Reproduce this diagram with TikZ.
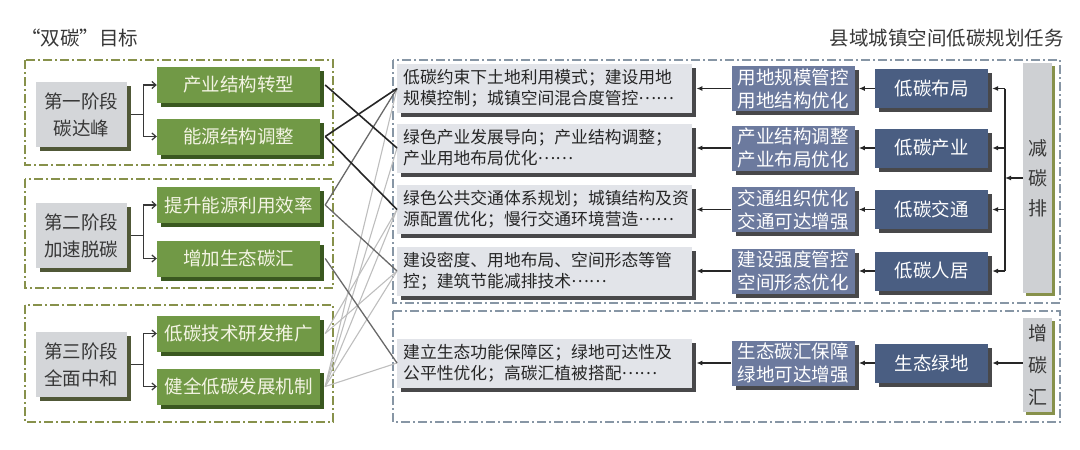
\documentclass[tikz,border=0pt]{standalone}
\usepackage{fontspec}
\newfontfamily\cjk{Noto Sans CJK SC}
\usetikzlibrary{arrows.meta,positioning,shadows,calc}
\definecolor{cGreen}{RGB}{113,153,70}
\definecolor{cGreenDk}{RGB}{58,88,32}
\definecolor{cCream}{RGB}{244,244,228}
\definecolor{cStage}{RGB}{212,214,217}
\definecolor{cStageDk}{RGB}{80,88,55}
\definecolor{cOlive}{RGB}{135,145,75}
\definecolor{cFrame}{RGB}{135,150,165}
\definecolor{cTask}{RGB}{226,228,233}
\definecolor{cShade}{RGB}{72,72,74}
\definecolor{cMeas}{RGB}{108,122,158}
\definecolor{cLow}{RGB}{74,94,130}
\definecolor{cBar}{RGB}{206,208,211}
\definecolor{cInk}{RGB}{55,55,55}
\definecolor{cMidLn}{RGB}{105,105,105}
\definecolor{cLtLn}{RGB}{190,190,190}
\newcommand{\dotsmid}{\raisebox{0.3em}{……}}
\tikzset{
  basebox/.style={rectangle,align=center,inner sep=0pt,
                  font=\cjk\fontsize{18.5}{23}\selectfont},
  stagebox/.style={basebox,fill=cStage,text=cInk,minimum width=91pt,minimum height=65pt,
                   font=\cjk\fontsize{18.5}{27}\selectfont,
                   drop shadow={shadow xshift=4pt,shadow yshift=-4pt,fill=cStageDk,opacity=1}},
  goalbox/.style={basebox,fill=cGreen,text=cCream,minimum width=163pt,minimum height=36pt,
                  drop shadow={shadow xshift=4pt,shadow yshift=-4pt,fill=cGreenDk,opacity=1}},
  taskbox/.style={basebox,fill=cTask,text=black!85,text width=283pt,align=left,
                  inner xsep=6pt,minimum height=49pt,
                  font=\cjk\fontsize{16.8}{21}\selectfont,
                  drop shadow={shadow xshift=4pt,shadow yshift=-4pt,fill=cShade,opacity=1}},
  measbox/.style={basebox,fill=cMeas,text=white,minimum width=123pt,minimum height=45pt,
                  drop shadow={shadow xshift=4pt,shadow yshift=-4pt,fill=cShade,opacity=1}},
  lowbox/.style={basebox,fill=cLow,text=white,minimum width=113pt,minimum height=39pt,
                 drop shadow={shadow xshift=4pt,shadow yshift=-4pt,fill=cShade,opacity=1}},
  barbox/.style={basebox,fill=cBar,text=cInk,minimum width=29pt,
                 drop shadow={shadow xshift=3pt,shadow yshift=-3pt,fill=cOlive,opacity=1}},
  titletext/.style={font=\cjk\fontsize{19.5}{22}\selectfont,text=cInk,inner sep=0pt},
  goalframe/.style={draw=cOlive,line width=1.5pt,dash pattern=on 9pt off 3pt on 2pt off 3pt},
  taskframe/.style={draw=cFrame,line width=1.3pt,dash pattern=on 9pt off 3pt on 2pt off 3pt},
  arr/.style={-{Latex[length=6pt,width=5pt]},line width=1.3pt,color=black!85},
  brk/.style={-{Straight Barb[length=4pt,width=7pt]},line width=1.2pt,color=cInk},
  darkln/.style={line width=1.6pt,color=black!85},
  midln/.style={line width=1.3pt,color=cMidLn},
  ltln/.style={line width=1.1pt,color=cLtLn}
}
\begin{document}
\begin{tikzpicture}[x=1pt,y=-1pt]
  \useasboundingbox (0,0) rectangle (1080,450);

  % Titles
  \node[titletext,anchor=west] (ltitle) at (21,38) {“双碳”目标};
  \node[titletext,anchor=east] (rtitle) at (1064,38) {县域城镇空间低碳规划任务};

  % Frames
  \draw[goalframe] (25,60) rectangle (333,165);
  \draw[goalframe] (25,179) rectangle (333,288);
  \draw[goalframe] (25,305) rectangle (333,422);
  \draw[taskframe] (393,60) rectangle (1060,303);
  \draw[taskframe] (393,311) rectangle (1060,422);

  % Stages
  \node[stagebox] (s1) at (81.5,114.5) {第一阶段\\碳达峰};
  \node[stagebox] (s2) at (81.5,235.5) {第二阶段\\加速脱碳};
  \node[stagebox] (s3) at (81.5,364.5) {第三阶段\\全面中和};

  % Goals
  \node[goalbox] (g1) at (238.5,85) {产业结构转型};
  \node[goalbox] (g2) at (238.5,136.5) {能源结构调整};
  \node[goalbox] (g3) at (238.5,205) {提升能源利用效率};
  \node[goalbox] (g4) at (238.5,258.5) {增加生态碳汇};
  \node[goalbox] (g5) at (238.5,333.5) {低碳技术研发推广};
  \node[goalbox] (g6) at (238.5,386.5) {健全低碳发展机制};

  \foreach \s/\a/\b in {s1/g1/g2,s2/g3/g4,s3/g5/g6}{
    \draw[brk] ([xshift=4pt]\s.east) -- ++(12,0) |- (\a.west);
    \draw[brk] ([xshift=4pt]\s.east) -- ++(12,0) |- (\b.west);
  }

  % Planning tasks: low-carbon themes
  \node[lowbox] (r1) at (931.5,88.5) {低碳布局};
  \node[lowbox] (r2) at (931.5,148) {低碳产业};
  \node[lowbox] (r3) at (931.5,209.5) {低碳交通};
  \node[lowbox] (r4) at (931.5,271) {低碳人居};
  \node[lowbox] (r5) at (931.5,363) {生态绿地};

  % Measures
  \node[measbox,left=20pt of r1] (m1) {用地规模管控\\用地结构优化};
  \node[measbox,left=20pt of r2] (m2) {产业结构调整\\产业布局优化};
  \node[measbox,left=20pt of r3] (m3) {交通组织优化\\交通可达增强};
  \node[measbox,left=20pt of r4] (m4) {建设强度管控\\空间形态优化};
  \node[measbox,left=20pt of r5] (m5) {生态碳汇保障\\绿地可达增强};

  % Contents
  \node[taskbox,left=39pt of m1] (t1) {低碳约束下土地利用模式；建设用地\\规模控制；城镇空间混合度管控\dotsmid};
  \node[taskbox,left=39pt of m2] (t2) {绿色产业发展导向；产业结构调整；\\产业用地布局优化\dotsmid};
  \node[taskbox,left=39pt of m3] (t3) {绿色公共交通体系规划；城镇结构及资\\源配置优化；慢行交通环境营造\dotsmid};
  \node[taskbox,left=39pt of m4] (t4) {建设密度、用地布局、空间形态等管\\控；建筑节能减排技术\dotsmid};
  \node[taskbox,left=39pt of m5] (t5) {建立生态功能保障区；绿地可达性及\\公平性优化；高碳汇植被搭配\dotsmid};

  % Side bars
  \node[barbox,minimum height=230pt,font=\cjk\fontsize{19}{30}\selectfont] (jian) at (1037.5,178) {减\\碳\\排};
  \node[barbox,minimum height=94pt,font=\cjk\fontsize{19}{32}\selectfont] (zeng) at (1037.5,365) {增\\碳\\汇};

  % Arrows
  \coordinate (bus) at (1005,180);
  \draw[arr] (jian.west) -- (jian.west -| bus);
  \draw[line width=1.3pt,black!85] (r1.east -| bus) -- (r4.east -| bus);
  \foreach \i in {1,...,4}
    \draw[arr] (r\i.east -| bus) -- ([xshift=4pt]r\i.east);
  \draw[arr] (r5.east -| zeng.west) -- ([xshift=4pt]r5.east);
  \foreach \i in {1,...,5}{
    \draw[arr] (r\i.west) -- ([xshift=4pt]m\i.east);
    \draw[arr] (m\i.west) -- ([xshift=4pt]t\i.east);
  }

  % Links goals -> tasks
  \foreach \a/\b in {g5/t3,g5/t4,g6/t1,g6/t2,g6/t3,g6/t4,g6/t5}
    \draw[ltln] ([xshift=5pt]\a.east) -- (\b.west);
  \foreach \a/\b in {g3/t1,g3/t4,g4/t5}
    \draw[midln] ([xshift=5pt]\a.east) -- (\b.west);
  \foreach \a/\b in {g1/t2,g2/t1,g2/t3}
    \draw[darkln] ([xshift=5pt]\a.east) -- (\b.west);

\end{tikzpicture}
\end{document}
